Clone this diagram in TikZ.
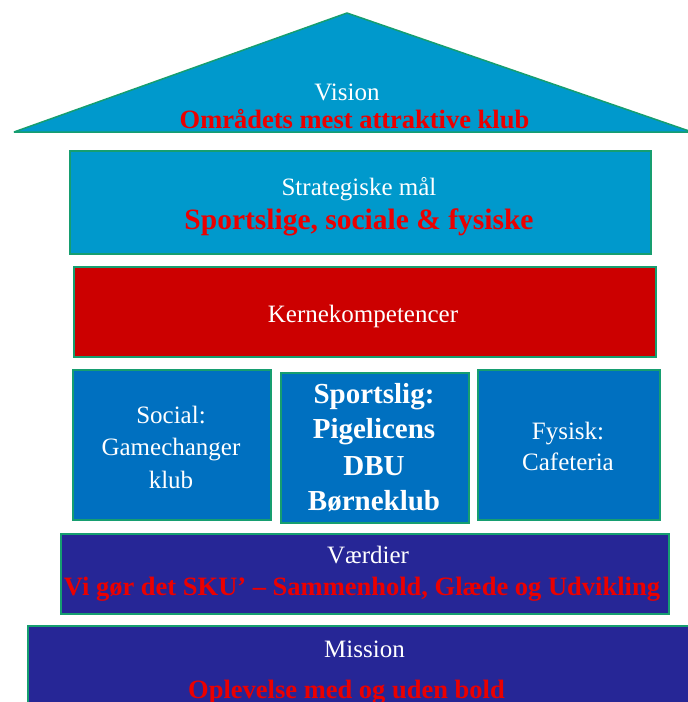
\documentclass[tikz,border=0pt]{standalone}
\usepackage{fontspec}
\setmainfont{Liberation Serif}
\definecolor{edgegreen}{RGB}{22,158,112}
\definecolor{roofblue}{RGB}{0,153,204}
\definecolor{kernered}{RGB}{204,0,0}
\definecolor{pillarblue}{RGB}{0,112,192}
\definecolor{baseblue}{RGB}{38,38,150}
\definecolor{txtred}{RGB}{235,0,0}
\begin{document}
\begin{tikzpicture}[x=1pt,y=-1pt,
  box/.style={draw=edgegreen, line width=2pt, inner sep=0pt, anchor=north west},
  wtxt/.style={text=white, anchor=base, inner sep=0pt, font=\fontsize{25}{30}\selectfont},
  rtxt/.style={text=txtred, anchor=base, inner sep=0pt, font=\fontsize{26.5}{30}\selectfont\bfseries},
  btxt/.style={text=white, anchor=base, inner sep=0pt, font=\fontsize{29}{34}\selectfont\bfseries}]
\useasboundingbox (0,0) rectangle (688,702);
% roof
\coordinate (apex) at (347,13);
\coordinate (rl) at (14,132);
\coordinate (rr) at (692,132);
\draw[fill=roofblue, draw=edgegreen, line width=1.5pt, line join=bevel] (rl) -- (apex) -- (rr) -- cycle;
\node[wtxt] (vision) at (347,100) {Vision};
\node[rtxt] (visionr) at (354.5,128) {Områdets mest attraktive klub};
% strategiske mål
\node[box, fill=roofblue, minimum width=581pt, minimum height=103pt] (strat) at (69,150) {};
\node[wtxt] (stratt) at (359,195) {Strategiske mål};
\node[rtxt, font=\fontsize{29.5}{34}\selectfont\bfseries] (stratr) at (359,229) {Sportslige, sociale \& fysiske};
% kernekompetencer
\node[box, fill=kernered, minimum width=582pt, minimum height=90pt] (kerne) at (73,266) {};
\node[wtxt] (kernet) at (363,322) {Kernekompetencer};
% pillars
\node[box, fill=pillarblue, minimum width=198pt, minimum height=150pt] (social) at (72,369) {};
\node[box, fill=pillarblue, minimum width=188pt, minimum height=150pt] (sport) at (280,372) {};
\node[box, fill=pillarblue, minimum width=182pt, minimum height=150pt] (fys) at (477,369) {};
\node[wtxt] (social1) at (171,423) {Social:};
\node[wtxt] (social2) at (171,455) {Gamechanger};
\node[wtxt] (social3) at (171,488) {klub};
\node[btxt] (sport1) at (374,403) {Sportslig:};
\node[btxt] (sport2) at (374,438) {Pigelicens};
\node[btxt] (sport3) at (374,475) {DBU};
\node[btxt] (sport4) at (374,510) {Børneklub};
\node[wtxt] (fys1) at (568,439) {Fysisk:};
\node[wtxt] (fys2) at (568,470) {Cafeteria};
% værdier
\node[box, fill=baseblue, minimum width=608pt, minimum height=80pt] (vaerdi) at (60,533) {};
\node[wtxt] (vaerdit) at (368,563) {Værdier};
\node[rtxt] (vaerdir) at (362,595) {Vi gør det SKU’ – Sammenhold, Glæde og Udvikling};
% mission
\node[box, fill=baseblue, minimum width=680pt, minimum height=100pt] (mission) at (27,625) {};
\node[wtxt] (missiont) at (364.5,657) {Mission};
\node[rtxt] (missionr) at (346.5,698) {Oplevelse med og uden bold};
\end{tikzpicture}
\end{document}
